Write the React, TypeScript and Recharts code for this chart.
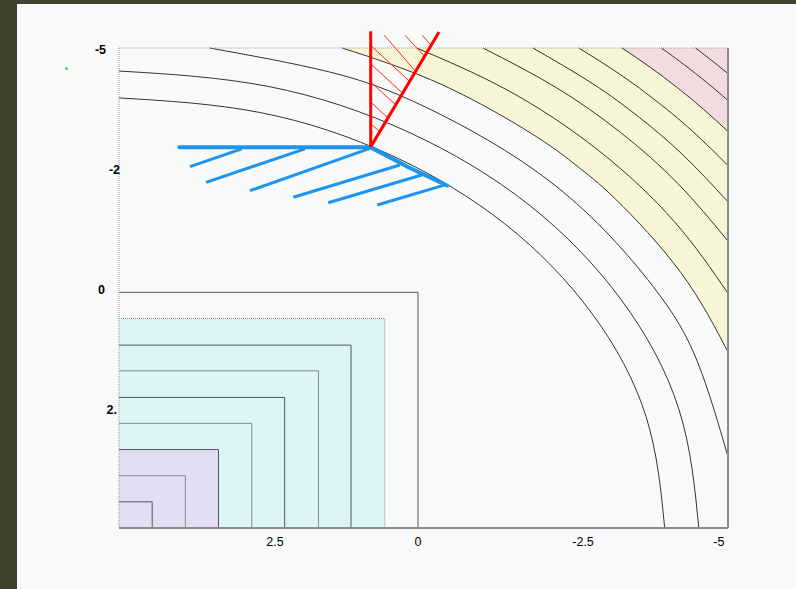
import React from "react";
import { ComposedChart, Line, Area, XAxis, YAxis, ReferenceLine, ReferenceDot } from "recharts";

// ---- tick labels ----
const xTickValues = [2.44, 0.09, -2.62, -4.85];
const xTickLabels = ["2.5", "0", "-2.5", "-5"];
const yTickValues = [-5, -2.5, 0, 2.5];
const yTickLabels = ["-5", "-2", "0", "2."];

// ---- circular contour levels (arcs around the lower-left corner) ----
const arc896 = [
  { x: 5, y: -3.96 }, { x: 2.681, y: -3.655 }, { x: 0.52, y: -2.76 }, { x: -1.336, y: -1.336 },
  { x: -2.76, y: 0.52 }, { x: -3.655, y: 2.681 }, { x: -3.96, y: 5 },
];
const arc952 = [
  { x: 5, y: -4.52 }, { x: 2.536, y: -4.196 }, { x: 0.24, y: -3.244 }, { x: -1.732, y: -1.732 },
  { x: -3.244, y: 0.24 }, { x: -4.196, y: 2.536 }, { x: -4.52, y: 5 },
];
const arc1011 = [
  { x: 3.513, y: -5 }, { x: 1.542, y: -4.5 }, { x: -0.055, y: -3.756 }, { x: -2.149, y: -2.149 },
  { x: -3.756, y: -0.055 }, { x: -4.5, y: 1.542 }, { x: -5, y: 3.513 },
];
const arc1065 = [
  { x: 1.336, y: -5 }, { x: -0.325, y: -4.223 }, { x: -1.846, y: -3.158 }, { x: -2.531, y: -2.531 },
  { x: -3.158, y: -1.846 }, { x: -4.223, y: -0.325 }, { x: -5, y: 1.336 },
];
const arc1113 = [
  { x: 0.113, y: -5 }, { x: -1.384, y: -4.118 }, { x: -2.87, y: -2.87 }, { x: -4.118, y: -1.384 }, { x: -5, y: 0.113 },
];
const arc1165 = [
  { x: -0.977, y: -5 }, { x: -2.173, y: -4.18 }, { x: -3.238, y: -3.238 }, { x: -4.18, y: -2.173 }, { x: -5, y: -0.977 },
];
const arc1209 = [
  { x: -1.795, y: -5 }, { x: -2.771, y: -4.262 }, { x: -3.549, y: -3.549 }, { x: -4.262, y: -2.771 }, { x: -5, y: -1.795 },
];
const arc1253 = [
  { x: -2.55, y: -5 }, { x: -3.221, y: -4.457 }, { x: -3.86, y: -3.86 }, { x: -4.457, y: -3.221 }, { x: -5, y: -2.55 },
];
const arc1297 = [
  { x: -3.26, y: -5 }, { x: -3.729, y: -4.593 }, { x: -4.171, y: -4.171 }, { x: -4.593, y: -3.729 }, { x: -5, y: -3.26 },
];
const arc1339 = [
  { x: -3.905, y: -5 }, { x: -4.132, y: -4.793 }, { x: -4.468, y: -4.468 }, { x: -4.793, y: -4.132 }, { x: -5, y: -3.905 },
];
const arc1377 = [{ x: -4.466, y: -5 }, { x: -4.737, y: -4.737 }, { x: -5, y: -4.466 }];

// ---- square contour levels ----
const sq1 = [{ x: 5, y: 4.455 }, { x: 4.455, y: 4.455 }, { x: 4.455, y: 5 }];
const sq2 = [{ x: 5, y: 3.91 }, { x: 3.91, y: 3.91 }, { x: 3.91, y: 5 }];
const sq3 = [{ x: 5, y: 3.366 }, { x: 3.366, y: 3.366 }, { x: 3.366, y: 5 }];
const sq4 = [{ x: 5, y: 2.82 }, { x: 2.82, y: 2.82 }, { x: 2.82, y: 5 }];
const sq5 = [{ x: 5, y: 2.28 }, { x: 2.28, y: 2.28 }, { x: 2.28, y: 5 }];
const sq6 = [{ x: 5, y: 1.725 }, { x: 1.725, y: 1.725 }, { x: 1.725, y: 5 }];
const sq7 = [{ x: 5, y: 1.19 }, { x: 1.19, y: 1.19 }, { x: 1.19, y: 5 }];
const sq8 = [{ x: 5, y: 0.635 }, { x: 0.635, y: 0.635 }, { x: 0.635, y: 5 }];
const sq9 = [{ x: 5, y: 0.09 }, { x: 0.09, y: 0.09 }, { x: 0.09, y: 5 }];

// filled bands
const lavenderBand = [{ x: 5, y: 3.366 }, { x: 3.366, y: 3.366 }];
const cyanBand = [{ x: 5, y: 0.635 }, { x: 0.635, y: 0.635 }];

// ---- frame ----
const frameLeft = [{ x: 5, y: -5 }, { x: 5, y: 5 }];
const frameTop = [{ x: 5, y: -5 }, { x: -5, y: -5 }];
const frameRight = [{ x: -5, y: -5 }, { x: -5, y: 5 }];
const frameBottom = [{ x: 5, y: 5 }, { x: -5, y: 5 }];

// ---- red wedge ----
const redVertical = [{ x: 0.867, y: -5.348 }, { x: 0.867, y: -2.94 }];
const redDiagonal = [{ x: 0.867, y: -2.94 }, { x: -0.255, y: -5.333 }];
const redHatch = [
  [{ x: 0.644, y: -5.265 }, { x: 0.131, y: -4.515 }],
  [{ x: 0.304, y: -5.265 }, { x: -0.016, y: -4.827 }],
  [{ x: 0.02, y: -5.265 }, { x: -0.107, y: -5.083 }],
  [{ x: 0.851, y: -5.035 }, { x: 0.23, y: -4.306 }],
  [{ x: 0.851, y: -4.652 }, { x: 0.348, y: -4.0625 }],
  [{ x: 0.851, y: -4.271 }, { x: 0.458, y: -3.819 }],
  [{ x: 0.851, y: -3.854 }, { x: 0.583, y: -3.542 }],
  [{ x: 0.851, y: -3.402 }, { x: 0.721, y: -3.265 }],
];

// ---- blue wall ----
const blueMain = [{ x: 4.01, y: -2.93 }, { x: 0.867, y: -2.93 }, { x: 0.222, y: -2.5 }, { x: -0.386, y: -2.135 }];
const blueHatch1 = [{ x: 3.834, y: -2.527 }, { x: 2.985, y: -2.9 }];
const blueHatch2 = [{ x: 3.571, y: -2.202 }, { x: 1.946, y: -2.9 }];
const blueHatch3 = [{ x: 2.849, y: -2.027 }, { x: 0.878, y: -2.91 }];
const blueHatch4 = [{ x: 2.138, y: -1.89 }, { x: 0.386, y: -2.5625 }];
const blueHatch5 = [{ x: 1.563, y: -1.777 }, { x: 0.03, y: -2.354 }];
const blueHatch6 = [{ x: 0.759, y: -1.729 }, { x: -0.381, y: -2.16 }];

const greenMark = { x: 5.86, y: -4.57 };

// ---- styles ----
const PAGE_BG = "#f7faf8";
const FONT = "'Liberation Sans', Arial, sans-serif";
const Y_LABEL_RIGHT = [106, 120, 105, 117];

const arcs = [arc896, arc952, arc1011, arc1065, arc1113, arc1165, arc1209, arc1253, arc1297, arc1339, arc1377];
const squares = [sq1, sq2, sq3, sq4, sq5, sq6, sq7, sq8, sq9];
const blueHatches = [blueHatch1, blueHatch2, blueHatch3, blueHatch4, blueHatch5, blueHatch6];

function XTick(props: any) {
  const { x, y, payload } = props;
  const i = xTickValues.indexOf(payload.value);
  return (
    <text x={x} y={y + 1} dy="0.71em" textAnchor="middle" fontSize={12.5} fontFamily={FONT} fill="#000">
      {xTickLabels[i]}
    </text>
  );
}

function YTick(props: any) {
  const { y, payload } = props;
  const i = yTickValues.indexOf(payload.value);
  return (
    <text x={Y_LABEL_RIGHT[i]} y={y + 2} dy="0.355em" textAnchor="end" fontSize={12.5} fontWeight="bold" fontFamily={FONT} fill="#000">
      {yTickLabels[i]}
    </text>
  );
}

const lineCommon = {
  dataKey: "y",
  dot: false,
  activeDot: false,
  isAnimationActive: false,
  legendType: "none" as const,
};

export default function App() {
  return (
    <div style={{ position: "absolute", left: 0, top: 0, width: 796, height: 589, background: PAGE_BG, overflow: "hidden" }}>
      <div style={{ position: "absolute", left: 0, top: 0, width: 17, height: 589, background: "#3c422e" }} />
      <div style={{ position: "absolute", left: 0, top: 0, width: 796, height: 4, background: "#3c422e" }} />
      <div style={{ position: "absolute", left: 0, top: 0 }}>
        <ComposedChart width={796} height={589} margin={{ top: 48, right: 68, bottom: 31, left: 79 }}>
          <XAxis
            type="number"
            dataKey="x"
            domain={[-5, 5]}
            reversed
            ticks={xTickValues}
            interval={0}
            axisLine={false}
            tickLine={false}
            height={30}
            tick={<XTick />}
          />
          <YAxis
            type="number"
            dataKey="y"
            domain={[-5, 5]}
            reversed
            ticks={yTickValues}
            interval={0}
            axisLine={false}
            tickLine={false}
            width={40}
            tick={<YTick />}
          />
          {/* colour bands */}
          <Area data={arc1065} dataKey="y" type="natural" baseValue={-5} fill="#f6f6d6" fillOpacity={1} stroke="none" isAnimationActive={false} legendType="none" activeDot={false} />
          <Area data={arc1297} dataKey="y" type="natural" baseValue={-5} fill="#f3dce0" fillOpacity={1} stroke="none" isAnimationActive={false} legendType="none" activeDot={false} />
          <Area data={cyanBand} dataKey="y" type="linear" baseValue={5} fill="#dcf6f5" fillOpacity={1} stroke="none" isAnimationActive={false} legendType="none" activeDot={false} />
          <Area data={lavenderBand} dataKey="y" type="linear" baseValue={5} fill="#e2def4" fillOpacity={1} stroke="none" isAnimationActive={false} legendType="none" activeDot={false} />

          {/* contour lines */}
          {arcs.map((a, i) => (
            <Line key={"arc" + i} {...lineCommon} data={a} type="natural" stroke="#333" strokeWidth={1} />
          ))}
          {squares.map((s, i) => (
            <Line key={"sq" + i} {...lineCommon} data={s} type="linear" stroke={i % 2 === 0 ? "#555" : "#8a8a8a"} strokeWidth={1} strokeDasharray={i === 7 ? "1 1" : undefined} />
          ))}

          {/* frame */}
          <Line {...lineCommon} data={frameLeft} type="linear" stroke="#999" strokeWidth={1} strokeDasharray="1 1" />
          <Line {...lineCommon} data={frameTop} type="linear" stroke="#999" strokeWidth={1} strokeDasharray="1 1" />
          <Line {...lineCommon} data={frameRight} type="linear" stroke="#8c8c8c" strokeWidth={2} />
          <Line {...lineCommon} data={frameBottom} type="linear" stroke="#8c8c8c" strokeWidth={2} />

          {/* blue wall */}
          {blueHatches.map((h, i) => (
            <Line key={"bh" + i} {...lineCommon} data={h} type="linear" stroke="#1e93f0" strokeWidth={3} />
          ))}
          <Line {...lineCommon} data={blueMain} type="linear" stroke="#1e93f0" strokeWidth={4} strokeLinecap="round" strokeLinejoin="round" />

          {/* red wedge */}
          {redHatch.map((seg, i) => (
            <ReferenceLine key={"rh" + i} segment={seg} stroke="#ff2a2a" strokeWidth={1} ifOverflow="visible" />
          ))}
          <ReferenceLine segment={redVertical} stroke="#ff0000" strokeWidth={3} ifOverflow="visible" />
          <ReferenceLine segment={redDiagonal} stroke="#ff0000" strokeWidth={3} ifOverflow="visible" />

          <ReferenceDot x={greenMark.x} y={greenMark.y} r={1.3} fill="#22dd22" stroke="none" ifOverflow="visible" />
        </ComposedChart>
      </div>
    </div>
  );
}
